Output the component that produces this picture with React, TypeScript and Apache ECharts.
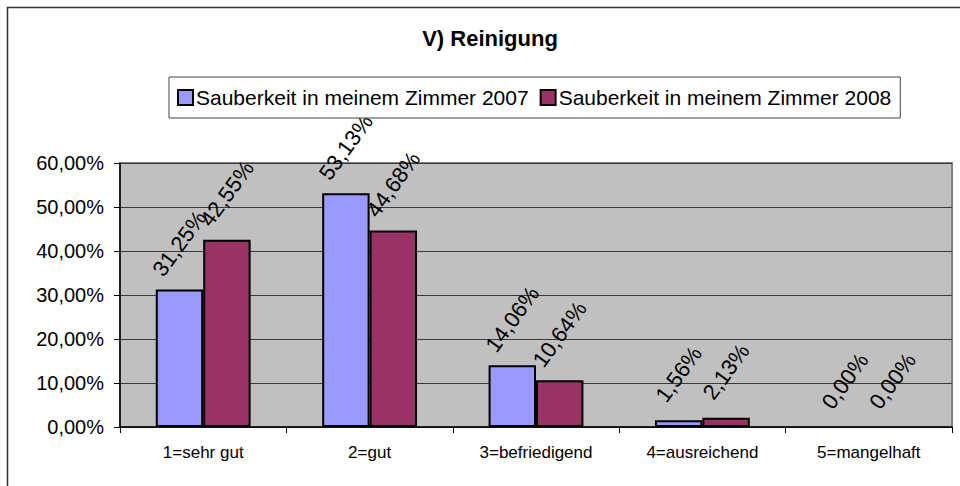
import React, { useEffect, useRef } from "react";
import * as echarts from "echarts";

const categories = ["1=sehr gut", "2=gut", "3=befriedigend", "4=ausreichend", "5=mangelhaft"];
const seriesNames = ["Sauberkeit in meinem Zimmer 2007", "Sauberkeit in meinem Zimmer 2008"];
const values2007 = [31.25, 53.13, 14.06, 1.56, 0];
const values2008 = [42.55, 44.68, 10.64, 2.13, 0];
const yTicks = { min: 0, max: 60, interval: 10 };
const titleText = "V) Reinigung";

const FONT = "'Liberation Sans', Arial, sans-serif";
const fmt = (v: number) => v.toFixed(2).replace(".", ",") + "%";
const toData = (arr: number[]) =>
  arr.map((v) => (v === 0 ? { value: v, itemStyle: { borderWidth: 0 } } : v));

export default function App() {
  const ref = useRef<HTMLDivElement>(null);
  useEffect(() => {
    if (!ref.current) return;
    const chart = echarts.init(ref.current, null, { renderer: "svg" });
    const label = {
      show: true,
      position: "top",
      distance: 46,
      rotate: 54,
      align: "center",
      verticalAlign: "middle",
      fontSize: 22,
      fontFamily: FONT,
      color: "#000",
      formatter: (p: any) => fmt(p.value),
    };
    chart.setOption({
      animation: false,
      backgroundColor: "#fff",
      textStyle: { fontFamily: FONT },
      graphic: [
        {
          type: "rect",
          shape: { x: 7.5, y: 7.5, width: 1000, height: 1000 },
          style: { fill: "none", stroke: "#333", lineWidth: 1.5 },
          z: 100,
        },
        {
          type: "text",
          x: 490,
          y: 38,
          style: {
            text: titleText,
            textAlign: "center",
            textVerticalAlign: "middle",
            font: "bold 22px " + FONT,
            fill: "#000",
          },
        },
      ],
      legend: {
        left: 169,
        top: 77,
        padding: [10, 9, 10, 8],
        itemGap: 11,
        itemWidth: 15,
        itemHeight: 15,
        icon: "rect",
        borderColor: "#444",
        borderWidth: 1,
        backgroundColor: "#fff",
        textStyle: { fontSize: 21, fontFamily: FONT, color: "#000", padding: [0, 0, 0, -2] },
        data: seriesNames,
      },
      grid: {
        left: 120,
        right: 8,
        top: 163,
        bottom: 59,
        show: true,
        backgroundColor: "#C0C0C0",
        borderColor: "#808080",
        borderWidth: 2,
      },
      xAxis: {
        type: "category",
        data: categories,
        axisLine: { lineStyle: { color: "#000", width: 1.5 } },
        axisTick: { show: true, length: 6, lineStyle: { color: "#000" } },
        axisLabel: { fontSize: 17, fontFamily: FONT, color: "#000", margin: 17 },
      },
      yAxis: {
        type: "value",
        min: yTicks.min,
        max: yTicks.max,
        interval: yTicks.interval,
        axisLine: { show: true, lineStyle: { color: "#000", width: 1.5 } },
        axisTick: { show: true, length: 6, lineStyle: { color: "#000" } },
        axisLabel: { fontSize: 20, fontFamily: FONT, color: "#000", margin: 16, formatter: (v: number) => fmt(v) },
        splitLine: { lineStyle: { color: "#3a3a3a", width: 1 } },
      },
      series: [
        {
          name: seriesNames[0],
          type: "bar",
          data: toData(values2007),
          barGap: "0%",
          barCategoryGap: "43%",
          itemStyle: { color: "#9999FF", borderColor: "#000", borderWidth: 2 },
          label,
        },
        {
          name: seriesNames[1],
          type: "bar",
          data: toData(values2008),
          barGap: "0%",
          barCategoryGap: "43%",
          itemStyle: { color: "#993366", borderColor: "#000", borderWidth: 2 },
          label,
        },
      ],
    });
    return () => chart.dispose();
  }, []);
  return (
    <div
      ref={ref}
      style={{ position: "fixed", left: 0, top: 0, width: 960, height: 486 }}
    />
  );
}
